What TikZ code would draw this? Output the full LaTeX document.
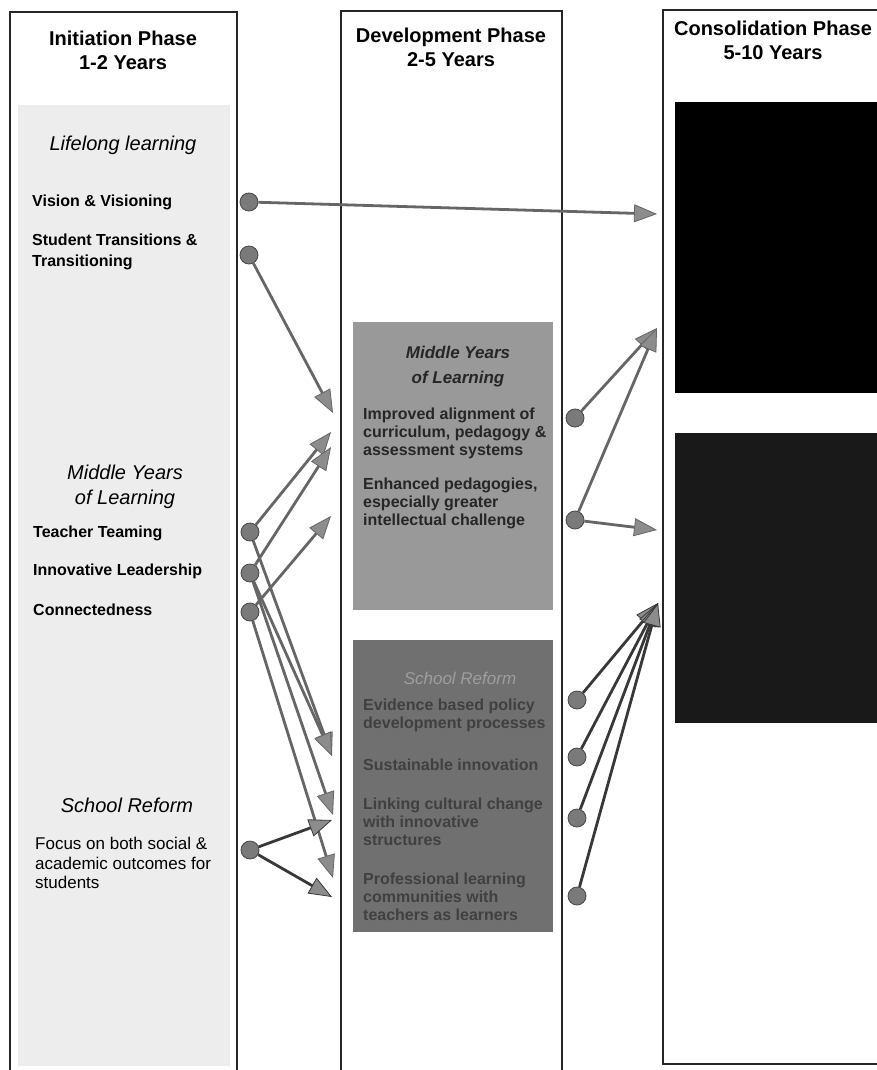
\documentclass[tikz,border=0pt]{standalone}
\usepackage{fontspec}
\setmainfont{Liberation Sans}
\usetikzlibrary{arrows.meta}
\begin{document}
\begin{tikzpicture}[x=1pt,y=-1pt,
  col/.style={line width=2.8pt, draw=black!85},
  hdr/.style={font=\bfseries\fontsize{20}{24}\selectfont, align=center, inner sep=0pt},
  theme/.style={font=\itshape\fontsize{20}{25}\selectfont, align=center, inner sep=0pt},
  item/.style={font=\bfseries\fontsize{16}{21}\selectfont, align=left, anchor=west, inner sep=0pt},
  plain/.style={font=\fontsize{17}{19.5}\selectfont, align=left, anchor=west, inner sep=0pt},
  boxtitle/.style={font=\bfseries\itshape\fontsize{17}{25}\selectfont, align=center, inner sep=0pt},
  boxitem/.style={font=\bfseries\fontsize{16}{18}\selectfont, align=left, anchor=west, inner sep=0pt},
  dot/.style={circle, minimum size=18pt, inner sep=0pt, fill=black!52, draw=black!72, line width=0.8pt},
  link/.style={line width=2.8pt, draw=black!60, -{Triangle[length=23pt,width=18pt,line width=0.8pt,fill=black!45]}},
  darklink/.style={link, draw=black!78}
]
\useasboundingbox (0,0) rectangle (877,1070);
% shading
\fill[black!7] (18,105) rectangle (230,1066);
\fill[black!40] (353,322) rectangle (553,610);
\fill[black!56] (353,640) rectangle (553,932);
\fill[black] (675,102) rectangle (877,393);
\fill[black!90] (675,433) rectangle (877,723);
% columns
\draw[col] (10,1075) -- (10,12) -- (237,12) -- (237,1075);
\draw[col] (341,1075) -- (341,11) -- (562,11) -- (562,1075);
\draw[col] (880,1064) -- (663,1064) -- (663,10) -- (880,10);

% headers
\node[hdr] (h1) at (123,50) {Initiation Phase\\1-2 Years};
\node[hdr] (h2) at (451,47) {Development Phase\\2-5 Years};
\node[hdr] (h3) at (773,40) {Consolidation Phase\\5-10 Years};

% left column text
\node[theme] (lifelong) at (123,145) {Lifelong learning};
\node[item] (vision) at (32,202) {Vision \& Visioning};
\node[item] (student) at (32,252) {Student Transitions \&\\Transitioning};
\node[theme] (middle) at (125,487) {Middle Years\\of Learning};
\node[item] (teacher) at (33,533) {Teacher Teaming};
\node[item] (innov) at (33,571) {Innovative Leadership};
\node[item] (connect) at (33,610) {Connectedness};
\node[theme] (reform) at (127,805) {School Reform};
\node[plain] (focus) at (35,863) {Focus on both social \&\\academic outcomes for\\students};

% middle column box 1
\node[boxtitle, text=black!85] (myl) at (458,367) {Middle Years\\of Learning};
\node[boxitem, text=black!85] (align) at (363,433) {Improved alignment of\\curriculum, pedagogy \&\\assessment systems};
\node[boxitem, text=black!85] (enh) at (363,503) {Enhanced pedagogies,\\especially greater\\intellectual challenge};

% middle column box 2
\node[boxtitle, text=black!38, font=\itshape\fontsize{17}{20}\selectfont] (sr) at (460,678) {School Reform};
\node[boxitem, text=black!75] (evid) at (363,715) {Evidence based policy\\development processes};
\node[boxitem, text=black!75] (sust) at (363,765) {Sustainable innovation};
\node[boxitem, text=black!75] (link) at (363,822) {Linking cultural change\\with innovative\\structures};
\node[boxitem, text=black!75] (prof) at (363,897) {Professional learning\\communities with\\teachers as learners};

% dots
\node[dot] (dV) at (249,202) {};
\node[dot] (dS) at (249,255) {};
\node[dot] (dTT) at (250,532) {};
\node[dot] (dIL) at (250,573) {};
\node[dot] (dC) at (250,612) {};
\node[dot] (dSR) at (250,850) {};
\node[dot] (r1) at (575,418) {};
\node[dot] (r2) at (575,520) {};
\node[dot] (r3) at (577,700) {};
\node[dot] (r4) at (577,757) {};
\node[dot] (r5) at (577,818) {};
\node[dot] (r6) at (577,896) {};

% arrow targets
\coordinate (tV) at (657,214);
\coordinate (tS) at (333,413);
\coordinate (tTT) at (331,432);
\coordinate (tIL) at (331,447);
\coordinate (tC) at (331,516);
\coordinate (tA) at (332,756);
\coordinate (tB) at (333,815);
\coordinate (tCc) at (333,878);
\coordinate (tSRu) at (332,820);
\coordinate (tSRd) at (332,897);
\coordinate (tR1) at (657,328);
\coordinate (tR2) at (657,530);
\coordinate (tR3) at (658,603);

% connectors
\draw[link] (dV) -- (tV);
\draw[link] (dS) -- (tS);
\draw[link] (dTT) -- (tTT);
\draw[link] (dIL) -- (tIL);
\draw[link] (dC) -- (tC);
\draw[link] (dTT) -- (tA);
\draw[link] (dIL) -- (tA);
\draw[link] (dIL) -- (tB);
\draw[link] (dC) -- (tCc);
\draw[darklink] (dSR) -- (tSRu);
\draw[darklink] (dSR) -- (tSRd);
\draw[link] (r1) -- (tR1);
\draw[link] (r2) -- (tR1);
\draw[link] (r2) -- (tR2);
\draw[darklink] (r3) -- (tR3);
\draw[darklink] (r4) -- (tR3);
\draw[darklink] (r5) -- (tR3);
\draw[darklink] (r6) -- (tR3);
\end{tikzpicture}
\end{document}
